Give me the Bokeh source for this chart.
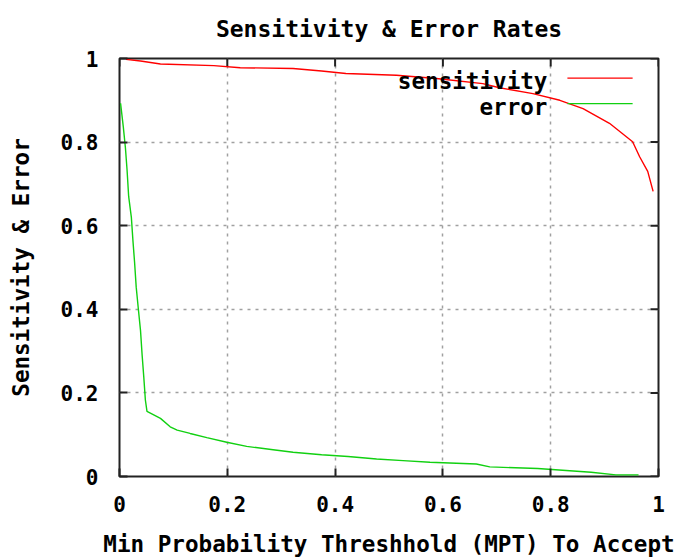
import math
from bokeh.plotting import figure
from bokeh.models import Range1d, FixedTicker, Label
from bokeh.embed import file_html
from bokeh.resources import INLINE

# Data
sens_x = [0.012, 0.039, 0.076, 0.175, 0.224, 0.322, 0.375, 0.42, 0.514, 0.588, 0.674,
          0.705, 0.767, 0.817, 0.86, 0.909, 0.952, 0.965, 0.98, 0.99]
sens_y = [0.998, 0.994, 0.987, 0.983, 0.978, 0.976, 0.970, 0.964, 0.960, 0.952, 0.940,
          0.930, 0.916, 0.900, 0.880, 0.845, 0.801, 0.765, 0.730, 0.682]

err_x = [0.002, 0.007, 0.011, 0.014, 0.017, 0.022, 0.025, 0.028, 0.031, 0.035, 0.039,
         0.042, 0.045, 0.048, 0.051, 0.076, 0.094, 0.107, 0.131, 0.162, 0.199, 0.236,
         0.285, 0.322, 0.375, 0.424, 0.477, 0.526, 0.576, 0.662, 0.687, 0.776, 0.822,
         0.875, 0.921, 0.963]
err_y = [0.893, 0.837, 0.786, 0.734, 0.670, 0.620, 0.563, 0.512, 0.453, 0.400, 0.349,
         0.290, 0.239, 0.183, 0.156, 0.139, 0.119, 0.111, 0.103, 0.093, 0.082, 0.072,
         0.064, 0.058, 0.052, 0.048, 0.042, 0.038, 0.034, 0.030, 0.023, 0.019, 0.015,
         0.010, 0.004, 0.004]

ticks = [0, 0.2, 0.4, 0.6, 0.8, 1]
tick_labels = ["0", "0.2", "0.4", "0.6", "0.8", "1"]

title_text = "Sensitivity & Error Rates"
x_label = "Min Probability Threshhold (MPT) To Accept"
y_label = "Sensitivity & Error"
series_names = ["sensitivity", "error"]

FONT = "DejaVu Sans Mono"
RED = "#ff0000"
GREEN = "#11d011"
INK = "#222222"

p = figure(width=682, height=559, output_backend="svg", toolbar_location=None,
           x_range=Range1d(0, 1), y_range=Range1d(0, 1),
           min_border_left=119, min_border_right=24, min_border_top=58, min_border_bottom=81)

xax = p.below[0]
yax = p.left[0]

p.title.text = title_text
p.title.text_font = FONT
p.title.text_font_size = "23px"
p.title.text_font_style = "bold"
p.title.text_color = "black"
p.title.align = "center"
p.title.vertical_align = "top"
p.title.standoff = 30

p.outline_line_color = INK
p.outline_line_width = 2
p.background_fill_color = "white"
p.border_fill_color = "white"

overrides = {t: l for t, l in zip(ticks, tick_labels)}

for ax, lab in ((xax, x_label), (yax, y_label)):
    ax.ticker = FixedTicker(ticks=ticks)
    ax.major_label_overrides = overrides
    ax.major_tick_in = 8
    ax.major_tick_out = 0
    ax.minor_tick_line_color = None
    ax.axis_line_color = None
    ax.major_tick_line_color = INK
    ax.major_tick_line_width = 2
    ax.major_label_text_font = FONT
    ax.major_label_text_font_size = "21px"
    ax.major_label_text_font_style = "bold"
    ax.major_label_text_color = "black"
    ax.axis_label = lab
    ax.axis_label_text_font = FONT
    ax.axis_label_text_font_size = "22.6px"
    ax.axis_label_text_font_style = "bold"
    ax.axis_label_text_color = "black"

xax.major_label_standoff = 19
xax.axis_label_standoff = 16
yax.major_label_standoff = 21
yax.axis_label_standoff = 24

grid_ticks = FixedTicker(ticks=[0.2, 0.4, 0.6, 0.8])
for g in p.grid:
    g.ticker = grid_ticks
    g.grid_line_color = "#a0a0a0"
    g.grid_line_dash = "3 5"
    g.grid_line_width = 1.5

# mirror ticks on the top and right borders (inward, 8 screen px)
p.ray(x=ticks, y=[1] * len(ticks), length=8, length_units="screen",
      angle=-math.pi / 2, line_color=INK, line_width=2)
p.ray(x=[1] * len(ticks), y=ticks, length=8, length_units="screen",
      angle=math.pi, line_color=INK, line_width=2)

p.line(sens_x, sens_y, line_color=RED, line_width=1.4)
p.line(err_x, err_y, line_color=GREEN, line_width=1.4)

# gnuplot style key: label on the left, sample line on the right
key_text_x = 0.794
key_rows = [(series_names[0], RED, 0.953, 0.945), (series_names[1], GREEN, 0.892, 0.883)]
for name, col, ky, ty in key_rows:
    p.add_layout(Label(x=key_text_x, y=ty, text=name, text_align="right",
                       text_baseline="middle", text_font=FONT, text_font_size="22.6px",
                       text_font_style="bold", text_color="black"))
    p.line([0.831, 0.952], [ky, ky], line_color=col, line_width=1.4)

open("out.html", "w").write(file_html(p, INLINE))
